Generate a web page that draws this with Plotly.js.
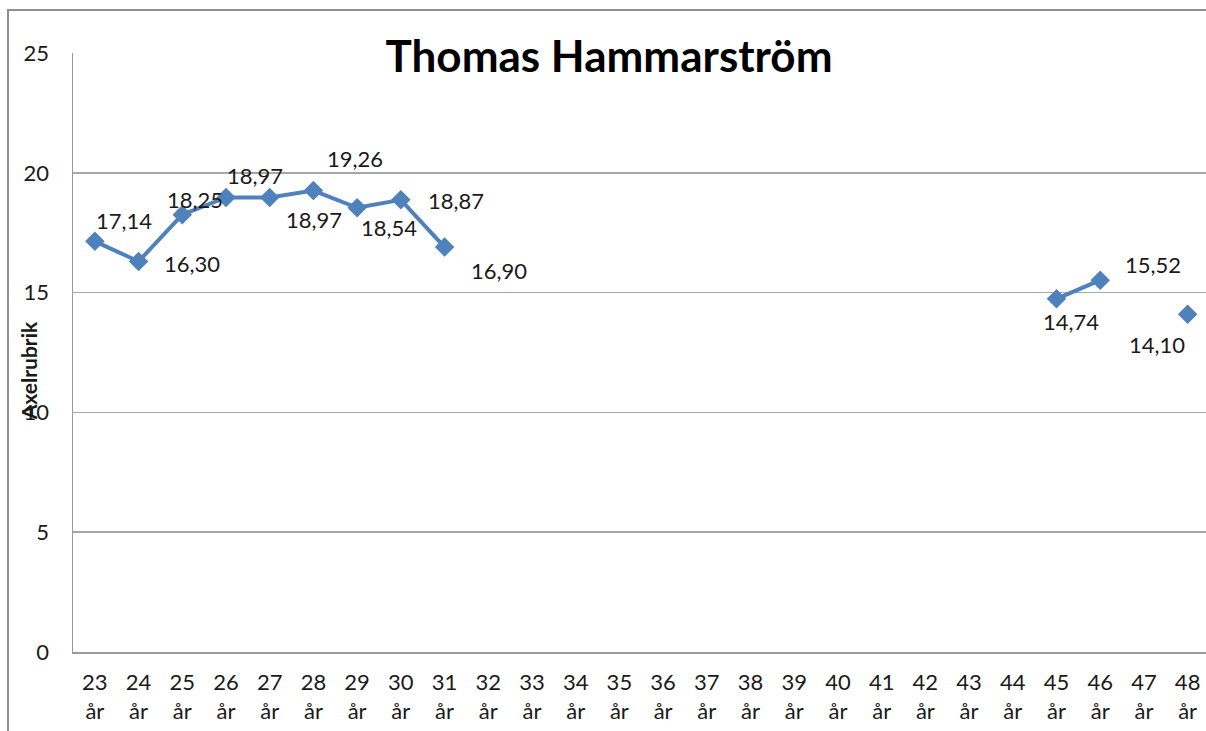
<!DOCTYPE html>
<html>
<head>
<meta charset="utf-8">
<script src="https://cdn.plot.ly/plotly-3.0.1.min.js"></script>
<style>
  body { margin: 0; background: #fff; }
  #wrap { position: relative; width: 1206px; height: 731px; overflow: hidden; }
  #chart { position: absolute; left: 0; top: 0; width: 1206px; height: 731px; }
  #frame { position: absolute; left: 7px; top: 9px; width: 1300px; height: 800px;
           border-left: 2px solid #8e8e8e; border-top: 2px solid #8e8e8e; pointer-events: none; }
</style>
</head>
<body>
<div id="wrap">
  <div id="chart"></div>
  <div id="frame"></div>
</div>
<script>
var ages = ['23','24','25','26','27','28','29','30','31','32','33','34','35',
            '36','37','38','39','40','41','42','43','44','45','46','47','48'];
var values = [17.14, 16.30, 18.25, 18.97, 18.97, 19.26, 18.54, 18.87, 16.90,
              null, null, null, null, null, null, null, null, null, null, null, null, null,
              14.74, 15.52, null, 14.10];

// label offsets in pixels (dx, dy up) for the points that have values
var labelDx = [29, 53, 13, 29, 44, 42, 32, 55, 54, 0, 0, 0, 0, 0, 0, 0, 0, 0, 0, 0, 0, 0, 14, 53, 0, -31];
var labelDy = [21, -2, 15, 22, -22, 32, -20, -1, -23, 0, 0, 0, 0, 0, 0, 0, 0, 0, 0, 0, 0, 0, -23, 16, 0, -30];

var cats = ages.map(function(a){ return a + ' år'; });
var tickText = ages.map(function(a){ return a + '<br>år'; });

var txtFont = {family: 'Lato, "Open Sans", sans-serif', size: 22, color: '#1a1a1a'};

var trace = {
  x: cats,
  y: values,
  type: 'scatter',
  mode: 'lines+markers',
  connectgaps: false,
  line: {color: '#4F81BD', width: 4},
  marker: {symbol: 'diamond', size: 15, color: '#4F81BD'},
  hoverinfo: 'x+y'
};

var labels = [];
values.forEach(function(v, i){
  if (v === null) return;
  labels.push({
    x: cats[i], y: v, xref: 'x', yref: 'y',
    text: v.toFixed(2).replace('.', ','),
    showarrow: false, xshift: labelDx[i], yshift: labelDy[i],
    font: txtFont
  });
});

labels.push({
  text: '<b>Axelrubrik</b>', textangle: -90, showarrow: false,
  xref: 'paper', yref: 'paper', x: -0.039, y: 0.47,
  xanchor: 'center', yanchor: 'middle',
  font: {family: 'Lato, "Open Sans", sans-serif', size: 21, color: '#1a1a1a'}
});

var layout = {
  width: 1206, height: 731,
  margin: {l: 73, r: 0, t: 53, b: 79},
  paper_bgcolor: '#fff', plot_bgcolor: '#fff',
  showlegend: false,
  title: {
    text: '<b>Thomas Hammarström</b>',
    x: 0.505, xref: 'container', xanchor: 'center',
    y: 0.922, yref: 'container', yanchor: 'middle',
    font: {family: 'Lato, "Open Sans", sans-serif', size: 44, color: '#000'}
  },
  xaxis: {
    type: 'category',
    range: [-0.5, 25.42],
    tickvals: cats, ticktext: tickText,
    showgrid: false, zeroline: false,
    showline: true, linecolor: '#9a9a9a', linewidth: 1.5,
    ticks: '', ticklabelstandoff: 10,
    tickfont: txtFont
  },
  yaxis: {
    range: [0, 25], dtick: 5,
    showgrid: true, gridcolor: '#a6a6a6', gridwidth: 1.5,
    zeroline: false,
    showline: true, linecolor: '#9a9a9a', linewidth: 1.5,
    ticks: '', ticklabelstandoff: 18,
    tickfont: txtFont
  },
  annotations: labels
};

Plotly.newPlot('chart', [trace], layout, {displayModeBar: false, staticPlot: true});
</script>
</body>
</html>
